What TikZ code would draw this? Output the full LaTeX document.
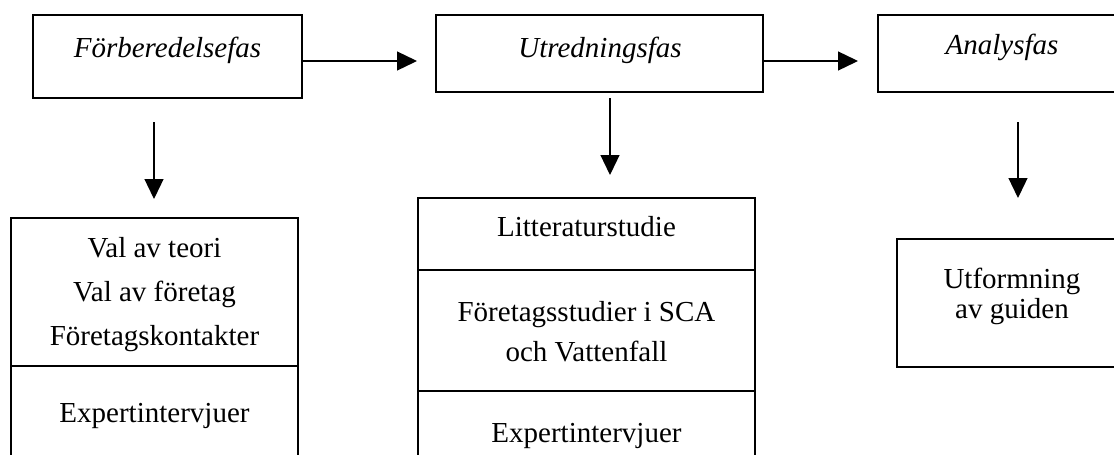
\documentclass[tikz,border=0pt]{standalone}
\usepackage{fontspec}
\setmainfont{Liberation Serif}
\usetikzlibrary{arrows.meta}
\begin{document}
\begin{tikzpicture}[x=1pt,y=-1pt,
  box/.style={draw=black, line width=1.3pt, rectangle, inner sep=0pt, outer sep=0pt, anchor=north west},
  txt/.style={anchor=base, inner sep=0pt, font=\fontsize{29}{35}\selectfont},
  arr/.style={line width=1.3pt, -{Triangle[length=20pt,width=19pt]}}]
\useasboundingbox (0,0) rectangle (1114,455);
\fill[white] (0,0) rectangle (1114,455);
\clip (0,0) rectangle (1114,455);
% top phase boxes
\node[box, minimum width=269pt, minimum height=83pt] (b1) at (33,15) {};
\node[box, minimum width=327pt, minimum height=77pt] (b2) at (436,15) {};
\node[box, minimum width=249pt, minimum height=77pt] (b3) at (878,15) {};
\node[txt] (t1) at (167.5,57) {\itshape Förberedelsefas};
\node[txt] (t2) at (600,57) {\itshape Utredningsfas};
\node[txt] (t3) at (1002,54) {\itshape Analysfas};
% lower boxes
\node[box, minimum width=287pt, minimum height=148pt] (l1) at (11,218) {};
\node[box, minimum width=287pt, minimum height=110pt] (l2) at (11,366) {};
\node[box, minimum width=337pt, minimum height=72pt] (m1) at (418,198) {};
\node[box, minimum width=337pt, minimum height=121pt] (m2) at (418,270) {};
\node[box, minimum width=337pt, minimum height=90pt] (m3) at (418,391) {};
\node[box, minimum width=230pt, minimum height=128pt] (r1) at (897,239) {};
% lower texts
\node[txt] (tl1) at (154.5,257) {Val av teori};
\node[txt] (tl2) at (154.5,301) {Val av företag};
\node[txt] (tl3) at (154.5,345) {Företagskontakter};
\node[txt] (tl4) at (154.5,422) {Expertintervjuer};
\node[txt] (tm1) at (586.5,236) {Litteraturstudie};
\node[txt] (tm2) at (586.5,321) {Företagsstudier i SCA};
\node[txt] (tm3) at (586.5,361) {och Vattenfall};
\node[txt] (tm4) at (586.5,442) {Expertintervjuer};
\node[txt] (tr1) at (1012,288) {Utformning};
\node[txt] (tr2) at (1012,318) {av guiden};
% arrow guide coordinates
\coordinate (rowH) at (0,61);
\coordinate (vL) at (154,122);
\coordinate (vM) at (610,98);
\coordinate (vR) at (1018,122);
% horizontal arrows
\draw[arr, shorten >=19pt] (b1.east |- rowH) -- (b2.west |- rowH);
\draw[arr, shorten >=20pt] (b2.east |- rowH) -- (b3.west |- rowH);
% vertical arrows
\draw[arr, shorten >=19pt] (vL) -- (vL |- l1.north);
\draw[arr, shorten >=23pt] (vM) -- (vM |- m1.north);
\draw[arr, shorten >=41pt] (vR) -- (vR |- r1.north);
\end{tikzpicture}
\end{document}
